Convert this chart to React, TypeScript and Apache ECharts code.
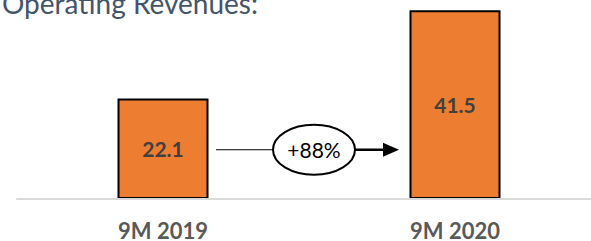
import React, { useEffect, useRef } from "react";
import * as echarts from "echarts";

const titleText = "Operating Revenues:";
const categories = ["9M 2019", "9M 2020"];
const revenues = [22.1, 41.5];
const growthLabel = "+88%";

export default function App() {
  const ref = useRef<HTMLDivElement>(null);
  useEffect(() => {
    if (!ref.current) return;
    const chart = echarts.init(ref.current, null, { renderer: "svg" });
    chart.setOption({
      animation: false,
      grid: { left: 17, right: 0, top: 0, bottom: 42 },
      xAxis: {
        type: "category",
        data: categories,
        z: 10,
        axisLine: { lineStyle: { color: "#D9D9D9", width: 2 } },
        axisTick: { length: 8, lineStyle: { color: "#D9D9D9", width: 1.5 } },
        axisLabel: {
          margin: 20,
          fontFamily: "Lato",
          fontWeight: "bold",
          fontSize: 22,
          color: "#595959",
        },
      },
      yAxis: { type: "value", min: 0, max: 43.75, show: false },
      series: [
        {
          type: "bar",
          data: revenues,
          barWidth: 91,
          itemStyle: { color: "#ED7D31", borderColor: "#000000", borderWidth: 2 },
          label: {
            show: true,
            position: "inside",
            fontFamily: "Lato",
            fontWeight: "bold",
            fontSize: 21,
            color: "#404040",
            formatter: (p: any) => p.value.toFixed(1),
          },
        },
      ],
    });

    const p0 = chart.convertToPixel({ xAxisIndex: 0, yAxisIndex: 0 }, [0, revenues[0] / 2]) as number[];
    const p1 = chart.convertToPixel({ xAxisIndex: 0, yAxisIndex: 0 }, [1, revenues[1]]) as number[];
    const ay = p0[1] + 1;
    const mid = (p0[0] + p1[0]) / 2;
    const ecx = mid + 5;
    const rx = 41;
    const ry = 25;
    const half = 46;
    const lineStart = p0[0] + half + 7;
    const tipX = p1[0] - half - 10;

    chart.setOption({
      graphic: [
        {
          type: "text",
          x: 258,
          y: 2.5,
          style: {
            text: titleText,
            font: "28px Lato",
            fill: "#44546A",
            align: "right",
            verticalAlign: "middle",
          },
        },
        {
          type: "line",
          shape: { x1: lineStart, y1: ay, x2: ecx - rx, y2: ay },
          style: { stroke: "#000", lineWidth: 1 },
        },
        {
          type: "ellipse",
          shape: { cx: ecx, cy: ay, rx, ry },
          style: { fill: "#fff", stroke: "#000", lineWidth: 2 },
        },
        {
          type: "text",
          x: ecx,
          y: ay,
          style: {
            text: growthLabel,
            font: "21px Lato",
            fill: "#000",
            align: "center",
            verticalAlign: "middle",
          },
        },
        {
          type: "line",
          shape: { x1: ecx + rx, y1: ay, x2: tipX - 15, y2: ay },
          style: { stroke: "#000", lineWidth: 2.5 },
        },
        {
          type: "polygon",
          shape: { points: [[tipX - 16, ay - 7], [tipX, ay], [tipX - 16, ay + 7]] },
          style: { fill: "#000" },
        },
      ],
    });

    return () => chart.dispose();
  }, []);
  return (
    <div style={{ position: "absolute", left: 0, top: 0, width: 591, height: 241, overflow: "hidden" }}>
      <div ref={ref} style={{ width: 601, height: 241 }} />
    </div>
  );
}
